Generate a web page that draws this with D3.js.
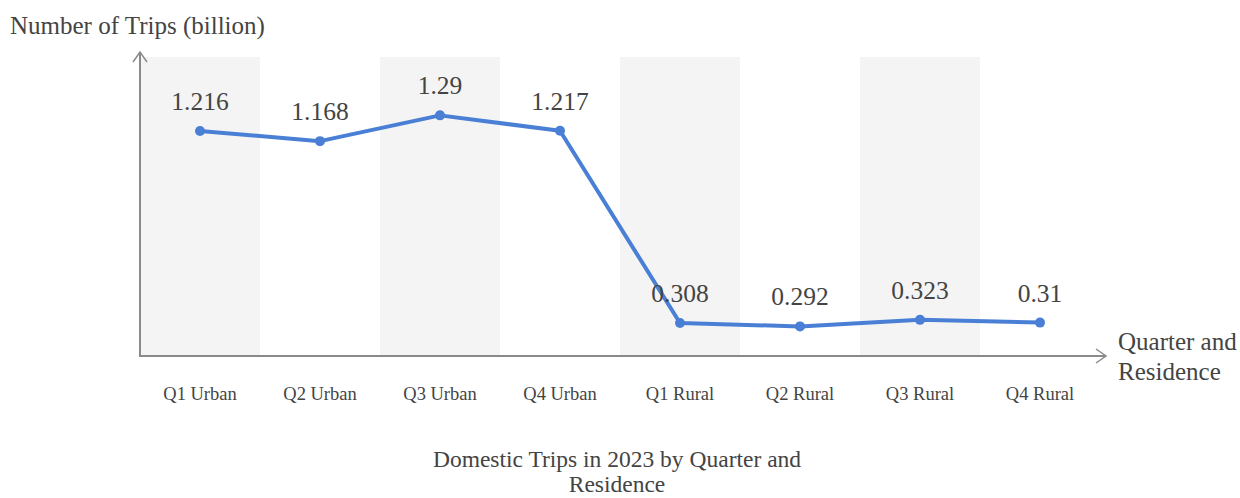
<!DOCTYPE html>
<html>
<head>
<meta charset="utf-8">
<script src="https://cdn.jsdelivr.net/npm/d3@7"></script>
<style>
  html, body { margin: 0; padding: 0; background: #fff; }
  svg { display: block; }
</style>
</head>
<body>
<svg id="chart" width="1240" height="498"></svg>
<script>
// Domestic trips (billion) by quarter and residence, 2023
const categories = ["Q1 Urban", "Q2 Urban", "Q3 Urban", "Q4 Urban", "Q1 Rural", "Q2 Rural", "Q3 Rural", "Q4 Rural"];
const trips = [1.216, 1.168, 1.29, 1.217, 0.308, 0.292, 0.323, 0.31];
const yDomain = [0.152, 1.566];

(function draw() {
  const serif = "Liberation Serif, Times New Roman, serif";
  const svg = d3.select("#chart").append("g").attr("font-family", serif);
  const plotLeft = 140, plotRight = 1100, plotTop = 57, plotBottom = 356;

  const x = d3.scaleBand().domain(categories).range([plotLeft, plotRight]).padding(0);
  const y = d3.scaleLinear().domain(yDomain).range([plotBottom, plotTop]);
  const cx = i => x(categories[i]) + x.bandwidth() / 2;

  // Alternating background stripes
  svg.append("g").selectAll("rect")
    .data(categories.filter((d, i) => i % 2 === 0))
    .join("rect")
    .attr("x", d => x(d))
    .attr("y", plotTop)
    .attr("width", x.bandwidth())
    .attr("height", plotBottom - plotTop)
    .attr("fill", "#f4f4f4");

  // Axes with open arrowheads
  const axisColor = "#8a8a8a";
  const axes = svg.append("g").attr("stroke", axisColor).attr("stroke-width", 2).attr("fill", "none");
  axes.append("line").attr("x1", plotLeft).attr("y1", plotBottom).attr("x2", plotLeft).attr("y2", 52);
  axes.append("path").attr("d", `M${plotLeft - 7},62 L${plotLeft},52 L${plotLeft + 7},62`).attr("stroke-width", 1.5);
  axes.append("line").attr("x1", plotLeft - 1).attr("y1", plotBottom).attr("x2", 1106).attr("y2", plotBottom);
  axes.append("path").attr("d", `M1096,${plotBottom - 7} L1106,${plotBottom} L1096,${plotBottom + 7}`).attr("stroke-width", 1.5);

  // Category labels
  const xAxis = d3.axisBottom(x).tickSize(0).tickPadding(0);
  const gx = svg.append("g").attr("transform", `translate(0,${plotBottom})`).call(xAxis);
  gx.select(".domain").remove();
  gx.attr("font-family", serif).attr("font-size", 18.5);
  gx.selectAll("text")
    .attr("y", 44).attr("dy", 0)
    .attr("fill", "#444");

  // Line
  const lineColor = "#4a7fd6";
  const line = d3.line().x((d, i) => cx(i)).y(d => y(d));
  svg.append("path")
    .datum(trips)
    .attr("d", line)
    .attr("fill", "none")
    .attr("stroke", lineColor)
    .attr("stroke-width", 4)
    .attr("stroke-linejoin", "round");

  svg.append("g").selectAll("circle")
    .data(trips)
    .join("circle")
    .attr("cx", (d, i) => cx(i))
    .attr("cy", d => y(d))
    .attr("r", 5)
    .attr("fill", lineColor);

  // Value labels
  svg.append("g").selectAll("text")
    .data(trips)
    .join("text")
    .attr("x", (d, i) => cx(i))
    .attr("y", d => y(d) - 21)
    .attr("text-anchor", "middle")
    .attr("font-size", 25.5)
    .attr("fill", "#444")
    .text(d => d);

  // Axis titles
  svg.append("text").attr("x", 10).attr("y", 34)
    .attr("font-size", 25).attr("fill", "#444")
    .text("Number of Trips (billion)");
  const xt = svg.append("text").attr("font-size", 25).attr("fill", "#444");
  xt.append("tspan").attr("x", 1118).attr("y", 350).text("Quarter and");
  xt.append("tspan").attr("x", 1118).attr("y", 380).text("Residence");

  // Chart title
  const title = svg.append("text").attr("text-anchor", "middle").attr("font-size", 23.5).attr("fill", "#444");
  title.append("tspan").attr("x", 617).attr("y", 467).text("Domestic Trips in 2023 by Quarter and");
  title.append("tspan").attr("x", 617).attr("y", 492).text("Residence");
})();
</script>
</body>
</html>
